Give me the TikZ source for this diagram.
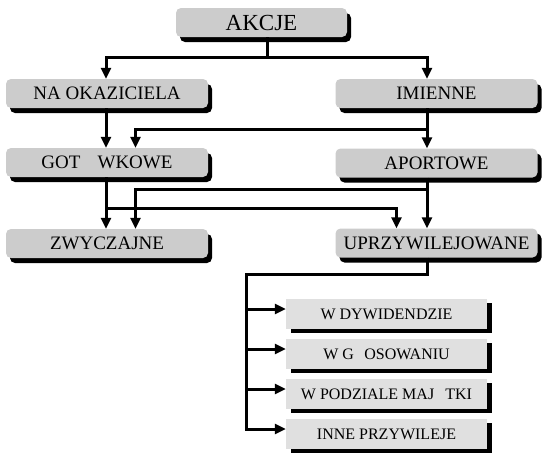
\documentclass[tikz,border=0pt]{standalone}
\usepackage{fontspec}
\setmainfont{Liberation Serif}
\usetikzlibrary{arrows.meta,shadows}
\definecolor{boxgray}{RGB}{204,204,204}
\definecolor{subgray}{RGB}{224,224,224}
\tikzset{
  mainbox/.style={rounded corners=5pt, fill=boxgray, inner sep=0pt,
    minimum width=202pt, minimum height=29pt, font=\fontsize{19}{19}\selectfont,
    general shadow={fill=black, shadow xshift=4pt, shadow yshift=-5pt}},
  subbox/.style={fill=subgray, inner sep=0pt,
    minimum width=201pt, minimum height=30pt, font=\fontsize{16}{16}\selectfont,
    general shadow={fill=black, shadow xshift=5pt, shadow yshift=-3.5pt}},
  conn/.style={line width=3pt},
  arr/.style={line width=3pt, -{Triangle[length=11pt,width=10pt]}}
}
\begin{document}
\begin{tikzpicture}[x=1pt,y=-1pt]
\useasboundingbox (0,0) rectangle (551,464);
% main boxes
\node[mainbox, minimum width=171pt, font=\fontsize{23}{23}\selectfont] (akcje) at (261.5,22.5) {AKCJE};
\node[mainbox] (na) at (107,93.5) {NA OKAZICIELA};
\node[mainbox] (imienne) at (436.5,93.5) {IMIENNE};
\node[mainbox] (got) at (107,162.5) {GOT\hspace{0.9em}WKOWE};
\node[mainbox] (aport) at (436.5,163) {APORTOWE};
\node[mainbox] (zwy) at (107,243.5) {ZWYCZAJNE};
\node[mainbox] (uprz) at (436.5,243) {UPRZYWILEJOWANE};
% sub boxes
\node[subbox] (s1) at (386.5,314) {W DYWIDENDZIE};
\node[subbox] (s2) at (386.5,354) {W G\hspace{0.65em}OSOWANIU};
\node[subbox] (s3) at (386.5,394) {W PODZIALE MAJ\hspace{0.7em}TKI};
\node[subbox] (s4) at (386.5,434) {INNE PRZYWILEJE};
% connectors
\coordinate (split) at (267,57);
\draw[conn] ([xshift=5.5pt]akcje.south) -- (split);
\draw[arr] (split) -| ([xshift=-1pt]na.north);
\draw[arr] (split) -| ([xshift=-9.5pt]imienne.north);
\draw[arr] ([xshift=-1pt]na.south) -- ([xshift=-1pt]got.north);
\draw[arr] ([xshift=-9.5pt]imienne.south) -- ([xshift=-9.5pt]aport.north);
\coordinate (c2) at (427,129.5);
\draw[arr] (c2) -| ([xshift=28.5pt]got.north);
\draw[arr] ([xshift=-1pt]got.south) -- ([xshift=-1pt]zwy.north);
\coordinate (c3) at (106,208);
\draw[arr] (c3) -| ([xshift=-40pt]uprz.north);
\draw[arr] ([xshift=-9.5pt]aport.south) -- ([xshift=-9.5pt]uprz.north);
\coordinate (c4) at (427,189);
\draw[arr] (c4) -| ([xshift=28.5pt]zwy.north);
\coordinate (bus) at (246,274);
\draw[arr] ([xshift=-9.5pt]uprz.south) |- (bus) |- ([yshift=5pt]s4.west);
\coordinate (b1) at (246,309);
\coordinate (b2) at (246,349);
\coordinate (b3) at (246,389);
\draw[arr] (b1) -- (b1 -| s1.west);
\draw[arr] (b2) -- (b2 -| s2.west);
\draw[arr] (b3) -- (b3 -| s3.west);
\end{tikzpicture}
\end{document}
